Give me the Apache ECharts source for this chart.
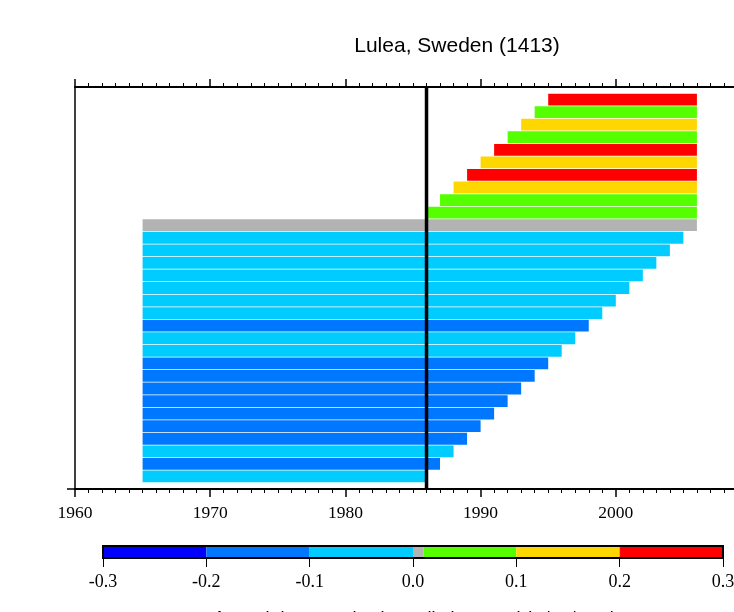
<!DOCTYPE html>
<html>
<head>
<meta charset="utf-8">
<script src="https://cdn.jsdelivr.net/npm/echarts@6/dist/echarts.min.js"></script>
<style>
html,body{margin:0;padding:0;background:#fff;}
#chart{width:734px;height:612px;}
</style>
</head>
<body>
<div id="chart"></div>
<script>
// Rows listed bottom to top
const startYears = [1965,1965,1965,1965,1965,1965,1965,1965,1965,1965,
                    1965,1965,1965,1965,1965,1965,1965,1965,1965,1965,
                    1965,
                    1986,1987,1988,1989,1990,1991,1992,1993,1994,1995];
const endYears   = [1986,1987,1988,1989,1990,1991,1992,1993,1994,1995,
                    1996,1997,1998,1999,2000,2001,2002,2003,2004,2005,
                    2006,
                    2006,2006,2006,2006,2006,2006,2006,2006,2006,2006];
const trends     = [-0.06,-0.12,-0.08,-0.13,-0.15,-0.14,-0.12,-0.11,-0.13,-0.11,
                    -0.09,-0.08,-0.11,-0.07,-0.06,-0.05,-0.05,-0.04,-0.03,-0.02,
                    0.005,
                    0.04,0.07,0.13,0.22,0.15,0.23,0.08,0.12,0.06,0.21];
const referenceYear = 1986;
const xTicks = [1960,1970,1980,1990,2000,2010];
const levels = [-0.3,-0.2,-0.1,0.0,0.01,0.1,0.2,0.3];
const levelTicks = [-0.3,-0.2,-0.1,0.0,0.1,0.2,0.3];
const palette = ['#0000FF','#0077FF','#00CCFF','#B3B3B3','#55FF00','#FFD700','#FF0000'];

const barData = startYears.map((s,i)=>[s, endYears[i], i+1, trends[i]]);
const pieces = palette.map((c,i)=>({gte: levels[i], lt: levels[i+1], color: c}));
pieces[pieces.length-1].lte = levels[levels.length-1];
delete pieces[pieces.length-1].lt;
const barLegendData = palette.map((c,i)=>[levels[i], levels[i+1], i]);

const serif = '"Liberation Serif","Times New Roman",serif';
const sans = '"Liberation Sans",Arial,sans-serif';

const chart = echarts.init(document.getElementById('chart'), null, {renderer:'canvas'});
chart.setOption({
  animation:false,
  backgroundColor:'#fff',
  grid:[
    {left:75, top:87, width:676, height:402, containLabel:false, outerBoundsMode:'none'},
    {left:103, top:546, width:620, height:12, show:true, borderColor:'#000', borderWidth:2, backgroundColor:'transparent', z:10, containLabel:false, outerBoundsMode:'none'}
  ],
  visualMap:{
    type:'piecewise', show:false, seriesIndex:0, dimension:3, pieces:pieces
  },
  xAxis:[
    {gridIndex:0, type:'value', position:'bottom', min:xTicks[0], max:xTicks[xTicks.length-1], interval:10,
     axisLine:{show:true, lineStyle:{color:'#000', width:2}},
     axisTick:{show:true, inside:false, length:8, lineStyle:{color:'#000', width:1.5}},
     minorTick:{show:true, splitNumber:10, length:4, lineStyle:{color:'#000', width:1}},
     axisLabel:{show:true, color:'#000', fontFamily:serif, fontSize:17.5, margin:15, formatter:v=>String(v), showMaxLabel:true},
     splitLine:{show:false}},
    {gridIndex:0, type:'value', position:'top', min:xTicks[0], max:xTicks[xTicks.length-1], interval:10,
     axisLine:{show:true, lineStyle:{color:'#000', width:2}},
     axisTick:{show:true, inside:false, length:8, lineStyle:{color:'#000', width:1.5}},
     minorTick:{show:true, splitNumber:10, length:4, lineStyle:{color:'#000', width:1}},
     axisLabel:{show:false},
     splitLine:{show:false}},
    {gridIndex:1, type:'value', position:'bottom', min:-0.3, max:0.3, interval:0.1,
     axisLine:{show:false},
     axisTick:{show:true, inside:false, length:9, customValues:levelTicks, lineStyle:{color:'#000', width:1}},
     axisLabel:{show:true, color:'#000', fontFamily:serif, fontSize:18, margin:15,
                customValues:levelTicks, formatter:v=>Number(v).toFixed(1)},
     splitLine:{show:false}}
  ],
  yAxis:[
    {gridIndex:0, type:'value', min:0, max:32,
     axisLine:{show:true, lineStyle:{color:'#000', width:1.5}},
     axisTick:{show:true, inside:false, length:8, customValues:[0], lineStyle:{color:'#000', width:1.5}},
     axisLabel:{show:false}, splitLine:{show:false}},
    {gridIndex:1, type:'value', min:0, max:1, show:false, splitLine:{show:false}}
  ],
  series:[
    {
      type:'custom', xAxisIndex:0, yAxisIndex:0,
      encode:{x:[0,1], y:2},
      data:barData,
      clip:true,
      renderItem:function(params, api){
        const a = api.coord([api.value(0), api.value(2)+0.5]);
        const b = api.coord([api.value(1), api.value(2)-0.5]);
        return {type:'rect', shape:{x:a[0], y:a[1]+0.4, width:b[0]-a[0], height:b[1]-a[1]-0.8},
                style:{fill:api.visual('color')}};
      }
    },
    {
      type:'line', xAxisIndex:0, yAxisIndex:0, symbol:'none', silent:true, z:5,
      data:[[referenceYear,0],[referenceYear,32]],
      lineStyle:{color:'#000', width:3.5}
    },
    {
      type:'custom', xAxisIndex:2, yAxisIndex:1,
      encode:{x:[0,1]},
      data:barLegendData,
      renderItem:function(params, api){
        const a = api.coord([api.value(0), 1]);
        const b = api.coord([api.value(1), 0]);
        return {type:'rect', shape:{x:a[0], y:a[1], width:b[0]-a[0], height:b[1]-a[1]},
                style:{fill:palette[api.value(2)]}};
      }
    }
  ],
  graphic:[
    {type:'text', x:457, y:46, style:{text:'Lulea, Sweden (1413)', fill:'#000', font:'21px '+sans, textAlign:'center', textVerticalAlign:'middle'}},
    {type:'text', x:415, y:610, style:{text:'Annual downward solar radiation trend (w/m\u00B2/year)', fill:'#000', font:'18px '+sans, textAlign:'center', textVerticalAlign:'top'}}
  ]
});
</script>
</body>
</html>
